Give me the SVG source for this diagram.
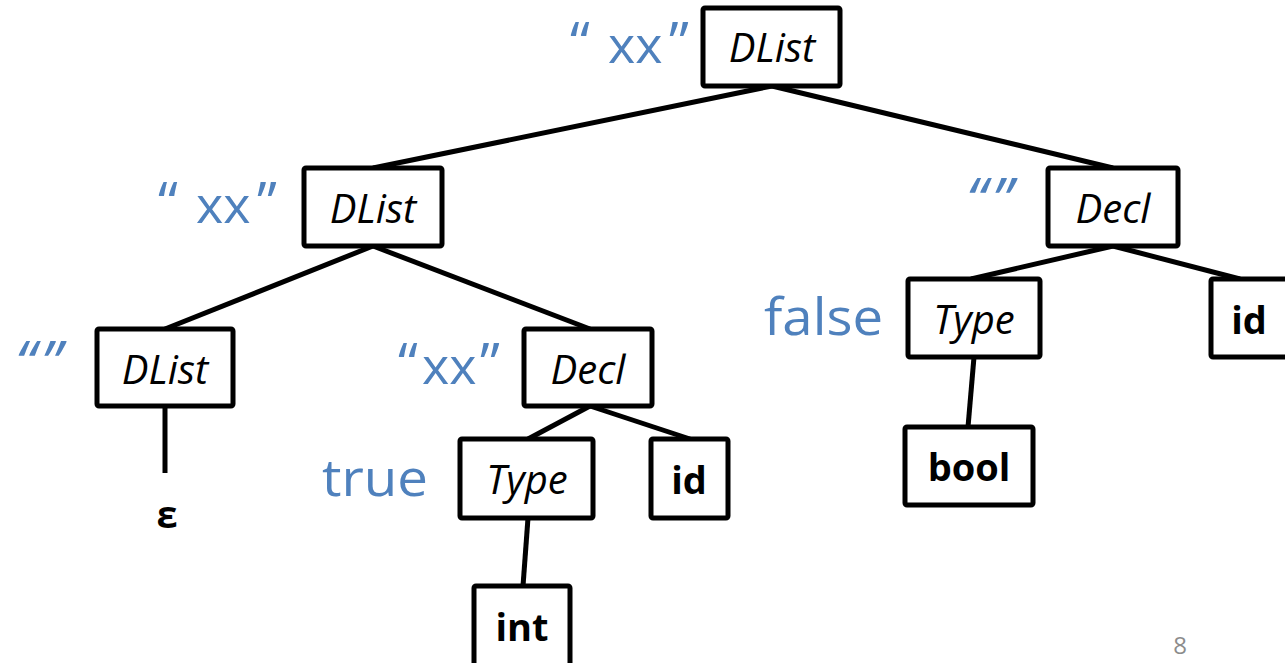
<svg xmlns="http://www.w3.org/2000/svg" width="1285" height="663" viewBox="0 0 1285 663">
  <style>
    .box { fill: #ffffff; stroke: #000000; stroke-width: 5; }
    .edge { stroke: #000000; stroke-width: 5; fill: none; stroke-linecap: butt; }
    .nt { font-family: "Open Sans", "Noto Sans", sans-serif; font-style: italic; font-size: 40px; fill: #000000; text-anchor: middle; }
    .t { font-family: "Open Sans", "Noto Sans", sans-serif; font-weight: bold; font-size: 38px; fill: #000000; text-anchor: middle; }
    .attr { font-family: "Open Sans", "Noto Sans", sans-serif; font-size: 52px; fill: #4f81bd; }
    .q { font-size: 57px; }
    .attr-s { font-family: "Open Sans", "Noto Sans", sans-serif; font-style: italic; font-size: 60px; letter-spacing: 5px; fill: #4f81bd; }
    .pg { font-family: "Open Sans", "Noto Sans", sans-serif; font-size: 24px; fill: #8c8c8c; text-anchor: middle; }
  </style>

  <!-- tree edges -->
  <g id="connectors">
    <line class="edge" x1="772" y1="86" x2="373" y2="168"/>
    <line class="edge" x1="772" y1="86" x2="1113" y2="168"/>
    <line class="edge" x1="373" y1="246" x2="165" y2="329"/>
    <line class="edge" x1="373" y1="246" x2="590" y2="329"/>
    <line class="edge" x1="165" y1="406" x2="165" y2="473"/>
    <line class="edge" x1="590" y1="406" x2="528" y2="439"/>
    <line class="edge" x1="590" y1="406" x2="690" y2="439"/>
    <line class="edge" x1="528" y1="518" x2="523" y2="586"/>
    <line class="edge" x1="1113" y1="246" x2="971" y2="279"/>
    <line class="edge" x1="1113" y1="246" x2="1240" y2="279"/>
    <line class="edge" x1="974" y1="357" x2="968" y2="427"/>
  </g>

  <g id="root-dlist">
    <rect class="box" x="703" y="8" width="137" height="78" rx="2"/>
    <text class="nt" x="772" y="62">DList</text>
    <text class="attr" y="63"><tspan class="q" x="570">“</tspan><tspan x="608">xx</tspan><tspan class="q" x="669">”</tspan></text>
  </g>

  <g id="dlist-2">
    <rect class="box" x="304" y="168" width="138" height="78" rx="2"/>
    <text class="nt" x="373" y="223">DList</text>
    <text class="attr" y="223"><tspan class="q" x="158">“</tspan><tspan x="196">xx</tspan><tspan class="q" x="257">”</tspan></text>
  </g>

  <g id="decl-right">
    <rect class="box" x="1048" y="168" width="130" height="78" rx="2"/>
    <text class="nt" x="1113" y="223">Decl</text>
    <text class="attr-s" x="966" y="221">“”</text>
  </g>

  <g id="dlist-3">
    <rect class="box" x="97" y="329" width="136" height="77" rx="2"/>
    <text class="nt" x="165" y="384">DList</text>
    <text class="attr-s" x="15" y="384">“”</text>
  </g>

  <g id="epsilon">
    <text class="t" x="167" y="528">ε</text>
  </g>

  <g id="decl-left">
    <rect class="box" x="524" y="329" width="128" height="77" rx="2"/>
    <text class="nt" x="588" y="384">Decl</text>
    <text class="attr" y="384"><tspan class="q" x="398">“</tspan><tspan x="422">xx</tspan><tspan class="q" x="480">”</tspan></text>
  </g>

  <g id="type-left">
    <rect class="box" x="460" y="439" width="133" height="79" rx="2"/>
    <text class="nt" x="527" y="494">Type</text>
    <text class="attr" x="322" y="496" font-size="55" textLength="106" lengthAdjust="spacingAndGlyphs">true</text>
  </g>

  <g id="id-left">
    <rect class="box" x="651" y="439" width="77" height="79" rx="2"/>
    <text class="t" x="689" y="494">id</text>
  </g>

  <g id="int">
    <rect class="box" x="474" y="586" width="96" height="80" rx="2"/>
    <text class="t" x="522" y="641">int</text>
  </g>

  <g id="type-right">
    <rect class="box" x="908" y="279" width="132" height="78" rx="2"/>
    <text class="nt" x="974" y="334">Type</text>
    <text class="attr" x="764" y="335" font-size="56" textLength="119" lengthAdjust="spacingAndGlyphs">false</text>
  </g>

  <g id="id-right">
    <rect class="box" x="1211" y="279" width="80" height="78" rx="2"/>
    <text class="t" x="1249" y="334">id</text>
  </g>

  <g id="bool">
    <rect class="box" x="905" y="427" width="128" height="78" rx="2"/>
    <text class="t" x="969" y="481">bool</text>
  </g>

  <text class="pg" x="1180" y="654">8</text>
</svg>
